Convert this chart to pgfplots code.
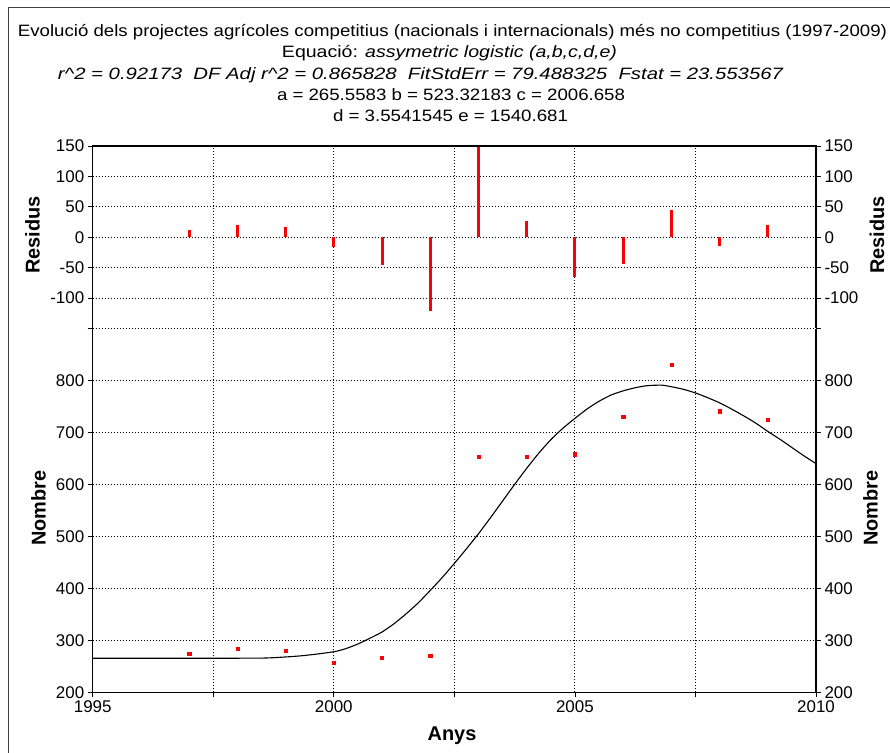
\documentclass[border=0pt]{standalone}
\usepackage{fontspec}
\setmainfont{Liberation Sans}
\usepackage{graphicx}
\usepackage{pgfplots}
\pgfplotsset{compat=1.18}

\pgfplotstableread{
year fit
1995 265.6
1996 265.6
1997 265.6
1998 265.6
1998.6 266
1999.0 268
1999.3 270
1999.6 273
2000.0 278
2000.25 284
2000.5 293
2000.75 304
2001.0 316
2001.25 332
2001.5 351
2001.75 372
2002.0 396
2002.25 421
2002.5 448
2002.75 476
2003.0 505
2003.25 536
2003.5 568
2003.75 600
2004.0 631
2004.25 660
2004.5 686
2004.75 708
2005.0 727
2005.25 745
2005.5 760
2005.75 772
2006.0 780
2006.25 786
2006.5 790
2006.8 791
2007.0 788
2007.25 783
2007.5 776
2007.75 767
2008.0 757
2008.25 745
2008.5 732
2008.75 718
2009.0 702
2009.25 687
2009.5 671
2009.75 655
2010.0 640
}\fitdata

\pgfplotstableread{
year n
1997 274
1998 284
1999 280
2000 257
2001 267
2002 270
2003 654
2004 654
2005 658
2006 730
2007 831
2008 741
2009 725
}\pointdata

\pgfplotstableread{
year r
1997 12
1998 20
1999 17
2000 -16
2001 -46
2002 -121
2003 150
2004 27
2005 -66
2006 -44
2007 45
2008 -15
2009 20
}\resdata

\pgfplotsset{
  base/.style={
    scale only axis, width=723.3bp, xmin=1995, xmax=2010,
    axis line style={draw=none},
    tick style={black, line width=0.8bp},
    major tick length=5bp, tick align=outside,
    grid style={black, line width=0.9bp, dash pattern=on 0.9bp off 2.1bp},
    ticklabel style={font=\fontsize{17}{20}\selectfont},
    /pgf/number format/assume math mode=true,
    clip=false,
  },
}

\begin{document}
\begin{tikzpicture}
\path[use as bounding box] (0bp,0bp) rectangle (890bp,753bp);
\draw[black!75, line width=0.9bp] (8bp,0bp) -- (8bp,746bp) -- (890bp,746bp);

% titles
\node[anchor=base, inner sep=0] at (452.5bp,716bp) {\resizebox{869bp}{\height}{\fontsize{16.5}{19}\selectfont Evolució dels projectes agrícoles competitius (nacionals i internacionals) més no competitius (1997-2009)}};
\node[anchor=base, inner sep=0] at (449.5bp,695bp) {\resizebox{335bp}{\height}{\fontsize{16.5}{19}\selectfont Equació: \textit{assymetric logistic (a,b,c,d,e)}}};
\node[anchor=base, inner sep=0] at (420.5bp,673.5bp) {\resizebox{725bp}{\height}{\fontsize{16.5}{19}\selectfont\itshape r\string^2 = 0.92173\ \ DF Adj r\string^2 = 0.865828\ \ FitStdErr = 79.488325\ \ Fstat = 23.553567}};
\node[anchor=base, inner sep=0] at (451bp,652bp) {\resizebox{348bp}{\height}{\fontsize{16.5}{19}\selectfont a = 265.5583 b = 523.32183 c = 2006.658}};
\node[anchor=base, inner sep=0] at (450.5bp,631bp) {\resizebox{235bp}{\height}{\fontsize{16.5}{19}\selectfont d = 3.5541545 e = 1540.681}};

% residuals panel
\begin{axis}[base, at={(92.7bp,424.5bp)}, anchor=south west, height=182.5bp,
  ymin=-150, ymax=150,
  xtick={1997.5,2000,2002.5,2005,2007.5}, xticklabels={},
  xmajorgrids, major x tick style={draw=none},
  ytick={-150,-100,...,150}, yticklabels={,-100,-50,0,50,100,150},
  ymajorgrids, ytick pos=both, yticklabel pos=left]
\addplot[ycomb, red, line width=3bp, mark=none] table[x=year, y=r] {\resdata};
\draw[black, line width=1.2bp] (rel axis cs:0,0) -- (rel axis cs:0,1) -- (rel axis cs:1,1) -- (rel axis cs:1,0);
\end{axis}
\begin{axis}[base, at={(92.7bp,424.5bp)}, anchor=south west, height=182.5bp,
  ymin=-150, ymax=150, xtick=\empty,
  ytick={-150,-100,...,150}, yticklabels={,-100,-50,0,50,100,150},
  ytick pos=right, yticklabel pos=right]
\end{axis}

% data panel
\begin{axis}[base, at={(92.7bp,60.7bp)}, anchor=south west, height=363.8bp,
  ymin=200, ymax=900,
  xtick={1995,1997.5,2000,2002.5,2005,2007.5,2010},
  xticklabels={1995,,2000,,2005,,2010}, xtick pos=left,
  xmajorgrids,
  ytick={200,300,...,800}, yticklabels={200,300,400,500,600,700,800},
  ymajorgrids, ytick pos=both, yticklabel pos=left]
\addplot[black, line width=1.1bp, mark=none, smooth, tension=0.4] table[x=year, y=fit] {\fitdata};
\addplot[only marks, mark=square*, mark size=1.6bp, red, draw=red] table[x=year, y=n] {\pointdata};
\draw[black, line width=1.2bp] (rel axis cs:0,1) -- (rel axis cs:0,0) -- (rel axis cs:1,0) -- (rel axis cs:1,1);
\end{axis}
\begin{axis}[base, at={(92.7bp,60.7bp)}, anchor=south west, height=363.8bp,
  ymin=200, ymax=900, xtick=\empty,
  ytick={200,300,...,800}, yticklabels={200,300,400,500,600,700,800},
  ytick pos=right, yticklabel pos=right]
\end{axis}

% axis labels
\node[rotate=90, font=\fontsize{20}{24}\bfseries\selectfont, inner sep=0] at (32.5bp,518bp) {Residus};
\node[rotate=90, font=\fontsize{20}{24}\bfseries\selectfont, inner sep=0] at (877bp,518bp) {Residus};
\node[rotate=90, font=\fontsize{20}{24}\bfseries\selectfont, inner sep=0] at (38.5bp,245bp) {Nombre};
\node[rotate=90, font=\fontsize{20}{24}\bfseries\selectfont, inner sep=0] at (870.5bp,245bp) {Nombre};
\node[anchor=base, font=\fontsize{20}{24}\bfseries\selectfont, inner sep=0] at (452bp,12.5bp) {Anys};
\end{tikzpicture}
\end{document}
